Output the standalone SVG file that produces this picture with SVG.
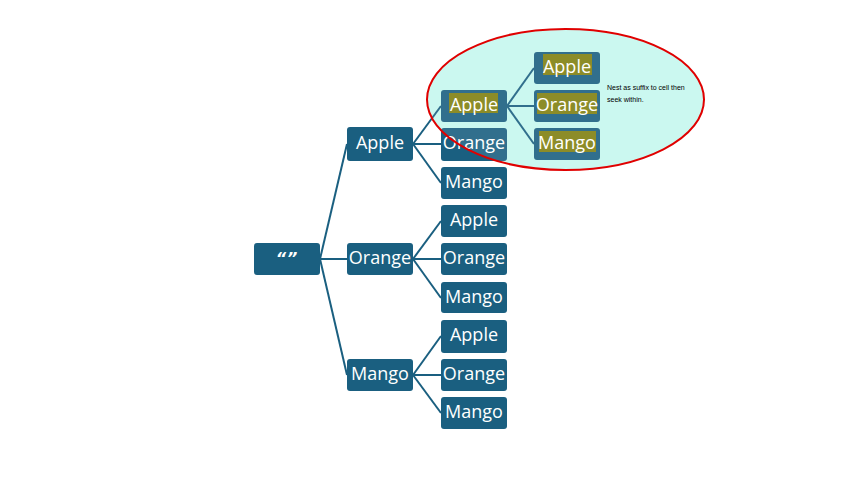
<svg xmlns="http://www.w3.org/2000/svg" width="853" height="480" viewBox="0 0 853 480">
<style>
.box{fill:#1a5f80}
.lbl{font-family:"Open Sans","Noto Sans",sans-serif;font-size:18px;fill:#ffffff;text-anchor:middle}
.hl{fill:#7f7f10}
.conn line{stroke:#1a5f80;stroke-width:2}
.note{font-family:"Liberation Sans",Arial,sans-serif;font-size:7px;fill:#000000}
</style>
<rect width="853" height="480" fill="#ffffff"/>
<g id="callout-fill">
<ellipse cx="565.5" cy="99.5" rx="138.5" ry="70.5" fill="#c6f8ef"/>
</g>
<g id="connectors" class="conn">
<line x1="320" y1="259" x2="347" y2="144"/>
<line x1="320" y1="259" x2="347" y2="259"/>
<line x1="320" y1="259" x2="347" y2="375"/>
<line x1="413" y1="144" x2="441" y2="106"/>
<line x1="413" y1="144" x2="441" y2="144"/>
<line x1="413" y1="144" x2="441" y2="183"/>
<line x1="413" y1="259" x2="441" y2="221"/>
<line x1="413" y1="259" x2="441" y2="259"/>
<line x1="413" y1="259" x2="441" y2="298"/>
<line x1="413" y1="375" x2="441" y2="336"/>
<line x1="413" y1="375" x2="441" y2="375"/>
<line x1="413" y1="375" x2="441" y2="413"/>
<line x1="507" y1="106" x2="534" y2="68"/>
<line x1="507" y1="106" x2="534" y2="106"/>
<line x1="507" y1="106" x2="534" y2="144"/>
</g>
<g id="root"><rect class="box" x="254" y="243" width="66" height="32" rx="3"/><text class="lbl" x="287" y="264" style="font-family:'DejaVu Sans',sans-serif;font-weight:bold;font-style:italic;font-size:16px;letter-spacing:1px">“”</text></g>
<g id="n-apple"><rect class="box" x="347" y="127" width="66" height="34" rx="3"/><text class="lbl" x="380" y="149">Apple</text></g>
<g id="n-orange"><rect class="box" x="347" y="243" width="66" height="32" rx="3"/><text class="lbl" x="380" y="264">Orange</text></g>
<g id="n-mango"><rect class="box" x="347" y="359" width="66" height="32" rx="3"/><text class="lbl" x="380" y="380">Mango</text></g>
<g id="n-apple-apple"><rect class="box" x="441" y="90" width="66" height="32" rx="3"/><rect class="hl" x="449" y="93" width="49" height="20"/><text class="lbl" x="474" y="111">Apple</text></g>
<g id="n-apple-orange"><rect class="box" x="441" y="128" width="66" height="33" rx="3"/><text class="lbl" x="474" y="149">Orange</text></g>
<g id="n-apple-mango"><rect class="box" x="441" y="167" width="66" height="32" rx="3"/><text class="lbl" x="474" y="188">Mango</text></g>
<g id="n-orange-apple"><rect class="box" x="441" y="205" width="66" height="32" rx="3"/><text class="lbl" x="474" y="226">Apple</text></g>
<g id="n-orange-orange"><rect class="box" x="441" y="243" width="66" height="32" rx="3"/><text class="lbl" x="474" y="264">Orange</text></g>
<g id="n-orange-mango"><rect class="box" x="441" y="282" width="66" height="31" rx="3"/><text class="lbl" x="474" y="303">Mango</text></g>
<g id="n-mango-apple"><rect class="box" x="441" y="320" width="66" height="33" rx="3"/><text class="lbl" x="474" y="341">Apple</text></g>
<g id="n-mango-orange"><rect class="box" x="441" y="359" width="66" height="32" rx="3"/><text class="lbl" x="474" y="380">Orange</text></g>
<g id="n-mango-mango"><rect class="box" x="441" y="397" width="66" height="32" rx="3"/><text class="lbl" x="474" y="418">Mango</text></g>
<g id="n-aa-apple"><rect class="box" x="534" y="52" width="66" height="32" rx="3"/><rect class="hl" x="543" y="54" width="49" height="21"/><text class="lbl" x="567" y="73">Apple</text></g>
<g id="n-aa-orange"><rect class="box" x="534" y="90" width="66" height="32" rx="3"/><rect class="hl" x="537" y="93" width="60" height="21"/><text class="lbl" x="567" y="111">Orange</text></g>
<g id="n-aa-mango"><rect class="box" x="534" y="128" width="66" height="32" rx="3"/><rect class="hl" x="539" y="131" width="57" height="21"/><text class="lbl" x="567" y="149">Mango</text></g>
<g id="callout">
<ellipse cx="565.5" cy="99.5" rx="138.5" ry="70.5" fill="#ffffff" fill-opacity="0.1" stroke="#e00000" stroke-width="2"/>
<text class="note" x="607" y="90">Nest as suffix to cell then</text>
<text class="note" x="607" y="102">seek within.</text>
</g>
</svg>
